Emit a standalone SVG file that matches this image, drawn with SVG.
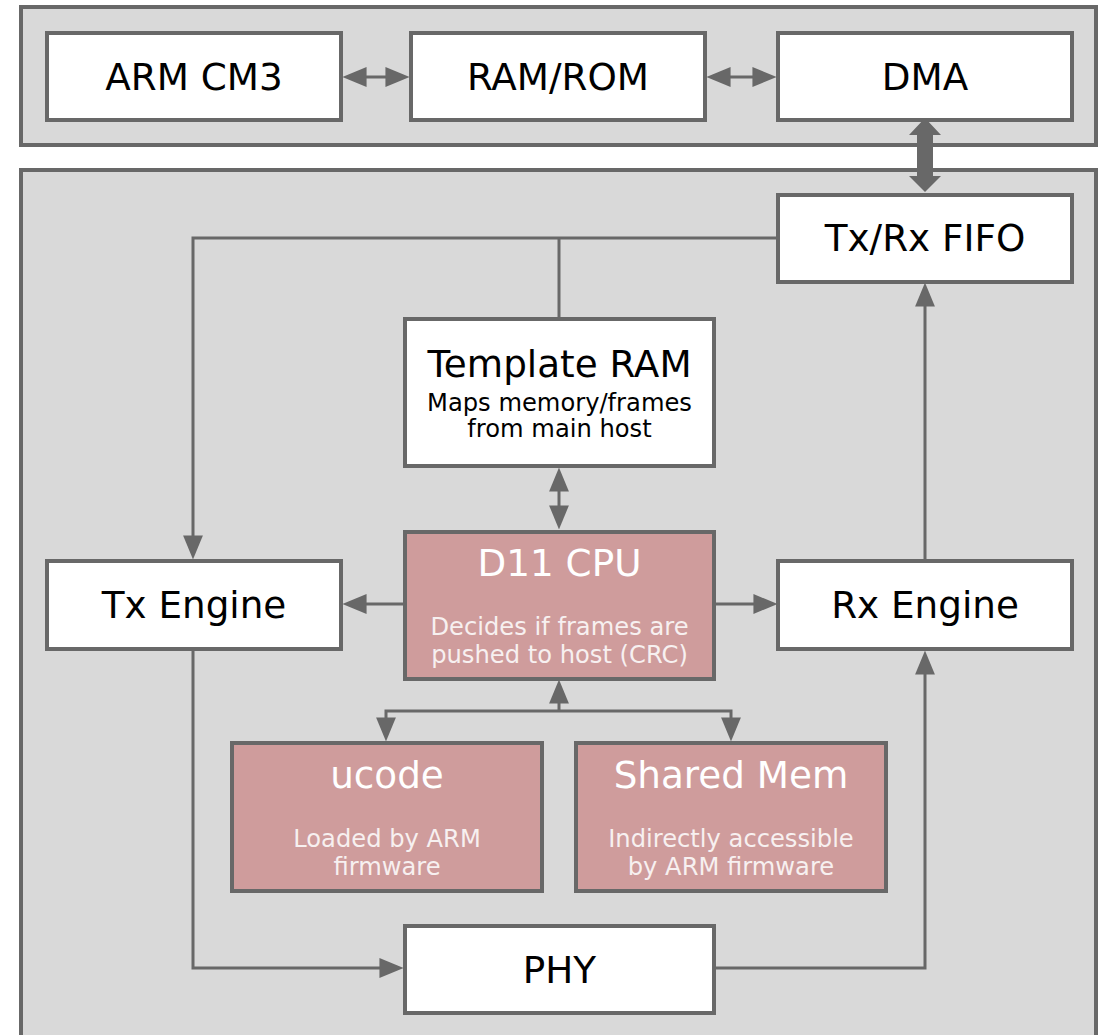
<svg xmlns="http://www.w3.org/2000/svg" width="1107" height="1035" viewBox="0 0 1107 1035">
  <style>
    .panel { fill: #d9d9d9; stroke: #686868; stroke-width: 4; }
    .box { fill: #ffffff; stroke: #686868; stroke-width: 4; }
    .core { fill: #cf9c9c; stroke: #686868; stroke-width: 4; }
    .wire { fill: none; stroke: #686868; stroke-width: 3; }
    text { font-family: "DejaVu Sans", Verdana, sans-serif; text-anchor: middle; }
    .title { font-size: 37.3px; fill: #000000; }
    .sub { font-size: 24.2px; fill: #000000; }
    .core-title { font-size: 37.3px; fill: #ffffff; }
    .core-sub { font-size: 24.2px; fill: #f7f0f0; }
  </style>
  <defs>
    <marker id="head" markerUnits="userSpaceOnUse" markerWidth="24" markerHeight="20" viewBox="0 0 23 19" refX="13" refY="9.5" orient="auto-start-reverse">
      <path d="M0,0 L23,9.5 L0,19 z" fill="#686868"/>
    </marker>
  </defs>

  <!-- host bus panel -->
  <rect class="panel" x="21" y="7" width="1075" height="138"/>
  <!-- wireless core panel -->
  <rect class="panel" x="21" y="170" width="1075" height="900"/>

  <g id="arm-cm3">
    <rect class="box" x="47" y="33" width="294" height="87"/>
    <text class="title" x="194" y="90">ARM CM3</text>
  </g>
  <g id="ram-rom">
    <rect class="box" x="411" y="33" width="294" height="87"/>
    <text class="title" x="558" y="90">RAM/ROM</text>
  </g>
  <g id="dma">
    <rect class="box" x="778" y="33" width="294" height="87"/>
    <text class="title" x="925" y="90">DMA</text>
  </g>
  <g id="fifo">
    <rect class="box" x="778" y="195" width="294" height="87"/>
    <text class="title" x="925" y="251">Tx/Rx FIFO</text>
  </g>
  <g id="template-ram">
    <rect class="box" x="405" y="319" width="309" height="147"/>
    <text class="title" x="559.5" y="377">Template RAM</text>
    <text class="sub" x="559.5" y="411">Maps memory/frames</text>
    <text class="sub" x="559.5" y="437">from main host</text>
  </g>
  <g id="d11-cpu">
    <rect class="core" x="405" y="532" width="309" height="147"/>
    <text class="core-title" x="559.5" y="576">D11 CPU</text>
    <text class="core-sub" x="559.5" y="635">Decides if frames are</text>
    <text class="core-sub" x="559.5" y="663">pushed to host (CRC)</text>
  </g>
  <g id="tx-engine">
    <rect class="box" x="47" y="561" width="294" height="88"/>
    <text class="title" x="194" y="618">Tx Engine</text>
  </g>
  <g id="rx-engine">
    <rect class="box" x="778" y="561" width="294" height="88"/>
    <text class="title" x="925" y="618">Rx Engine</text>
  </g>
  <g id="ucode">
    <rect class="core" x="232" y="743" width="310" height="148"/>
    <text class="core-title" x="387" y="788">ucode</text>
    <text class="core-sub" x="387" y="847">Loaded by ARM</text>
    <text class="core-sub" x="387" y="875">firmware</text>
  </g>
  <g id="shared-mem">
    <rect class="core" x="576" y="743" width="310" height="148"/>
    <text class="core-title" x="731" y="788">Shared Mem</text>
    <text class="core-sub" x="731" y="847">Indirectly accessible</text>
    <text class="core-sub" x="731" y="875">by ARM firmware</text>
  </g>
  <g id="phy">
    <rect class="box" x="405" y="926" width="309" height="87"/>
    <text class="title" x="559.5" y="983">PHY</text>
  </g>

  <g id="connectors">
    <!-- host bus links -->
    <line class="wire" x1="353" y1="77" x2="399" y2="77" marker-start="url(#head)" marker-end="url(#head)"/>
    <line class="wire" x1="717" y1="77" x2="766" y2="77" marker-start="url(#head)" marker-end="url(#head)"/>
    <!-- wide DMA <-> FIFO path -->
    <polygon fill="#686868" points="925,118 941,135 933,135 933,176 941,176 925,192 909,176 917,176 917,135 909,135"/>
    <!-- FIFO to Tx engine, with Template RAM tap -->
    <polyline class="wire" points="779,238 193,238 193,549" marker-end="url(#head)"/>
    <line class="wire" x1="559" y1="238" x2="559" y2="319"/>
    <!-- Template RAM <-> D11 -->
    <line class="wire" x1="559" y1="478" x2="559" y2="519" marker-start="url(#head)" marker-end="url(#head)"/>
    <!-- D11 to engines -->
    <line class="wire" x1="404" y1="604" x2="353" y2="604" marker-end="url(#head)"/>
    <line class="wire" x1="715" y1="604" x2="767" y2="604" marker-end="url(#head)"/>
    <!-- Rx engine to FIFO -->
    <line class="wire" x1="925" y1="561" x2="925" y2="293" marker-end="url(#head)"/>
    <!-- D11 local memories -->
    <line class="wire" x1="559" y1="711" x2="559" y2="690" marker-end="url(#head)"/>
    <polyline class="wire" points="386,731 386,711 731,711 731,731" marker-start="url(#head)" marker-end="url(#head)"/>
    <!-- Tx engine to PHY, PHY to Rx engine -->
    <polyline class="wire" points="193,649 193,968 393,968" marker-end="url(#head)"/>
    <polyline class="wire" points="715,968 925,968 925,661" marker-end="url(#head)"/>
  </g>
</svg>
